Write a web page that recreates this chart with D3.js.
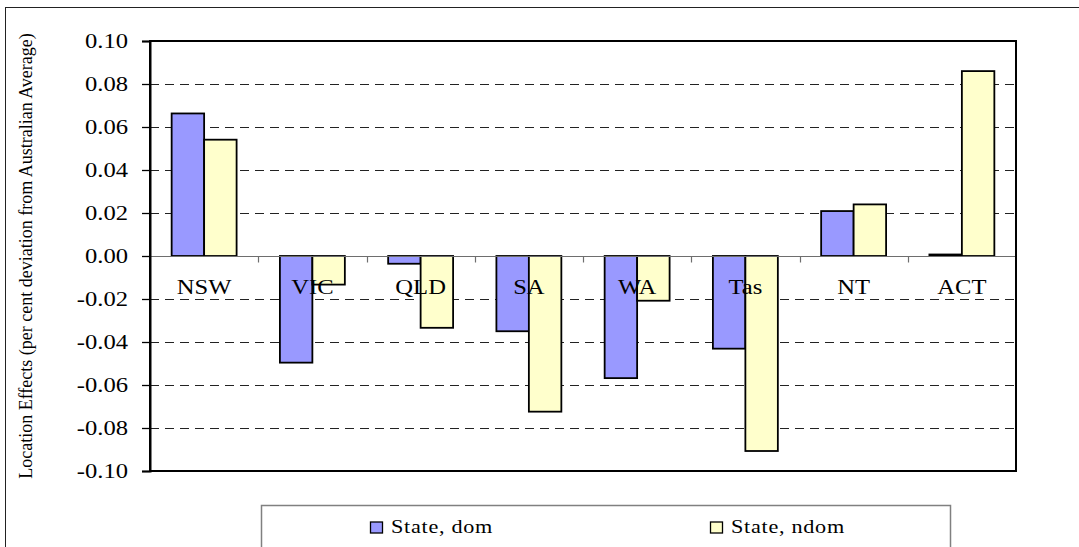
<!DOCTYPE html>
<html>
<head>
<meta charset="utf-8">
<script src="https://cdn.jsdelivr.net/npm/d3@7"></script>
<style>
  html, body { margin: 0; padding: 0; background: #fff; }
  svg text { font-family: 'Liberation Serif', 'Times New Roman', 'DejaVu Serif', serif; }
</style>
</head>
<body>
<svg id="chart" width="1079" height="547"></svg>
<script>
// Location effects by state, domestic vs non-domestic
const states = ["NSW", "VIC", "QLD", "SA", "WA", "Tas", "NT", "ACT"];
const seriesNames = ["State, dom", "State, ndom"];
const stateDom  = [0.0663, -0.0496, -0.0036, -0.0350, -0.0568, -0.0431, 0.0209, 0.0007];
const stateNdom = [0.0541, -0.0133, -0.0334, -0.0724, -0.0208, -0.0907, 0.0240, 0.0860];
const yTicks = [-0.10, -0.08, -0.06, -0.04, -0.02, 0.00, 0.02, 0.04, 0.06, 0.08, 0.10];
const yTickLabels = ["-0.10", "-0.08", "-0.06", "-0.04", "-0.02", "0.00", "0.02", "0.04", "0.06", "0.08", "0.10"];
const yTitle = "Location Effects (per cent deviation from Australian Average)";
const colors = ["#9999ff", "#ffffcc"];

const FONT = "'Liberation Serif', 'Times New Roman', 'DejaVu Serif', serif";
const svg = d3.select("#chart");
const plot = { left: 150, right: 1016, top: 41, bottom: 471 };
const stretch = 1.23; // horizontal widening of the serif labels
const crisp = v => Math.round(v) + 0.5;

// outer chart frame
svg.append("rect")
  .attr("x", 5.5).attr("y", 7.5)
  .attr("width", 1200).attr("height", 700)
  .attr("fill", "#fff").attr("stroke", "#222").attr("stroke-width", 1);

const x = d3.scaleBand().domain(states).range([plot.left, plot.right]).padding(0);
const bw = x.bandwidth();
const x1 = d3.scaleBand().domain(seriesNames).range([bw * 0.2, bw * 0.8]).padding(0);
const y = d3.scaleLinear().domain([-0.1, 0.1]).range([plot.bottom, plot.top]);

// dashed gridlines
svg.append("g")
  .selectAll("line")
  .data(yTicks.filter(v => v !== 0 && Math.abs(v) < 0.1))
  .join("line")
  .attr("x1", plot.left).attr("x2", plot.right)
  .attr("y1", d => crisp(y(d))).attr("y2", d => crisp(y(d)))
  .attr("stroke", "#222").attr("stroke-width", 1)
  .attr("stroke-dasharray", "9,6");

// bars
const rows = states.map((s, i) => ({ state: s, values: [stateDom[i], stateNdom[i]] }));
const groups = svg.append("g").selectAll("g")
  .data(rows).join("g")
  .attr("transform", d => `translate(${x(d.state)},0)`);
groups.selectAll("rect")
  .data(d => d.values.map((v, j) => ({ name: seriesNames[j], v, j })))
  .join("rect")
  .attr("x", d => x1(d.name))
  .attr("width", x1.bandwidth())
  .attr("y", d => y(Math.max(0, d.v)))
  .attr("height", d => Math.abs(y(d.v) - y(0)))
  .attr("fill", d => colors[d.j])
  .attr("stroke", "#000").attr("stroke-width", 1.8);

// zero line and category ticks
const y0 = crisp(y(0));
svg.append("line")
  .attr("x1", plot.left).attr("x2", plot.right)
  .attr("y1", y0).attr("y2", y0)
  .attr("stroke", "#6e6e6e").attr("stroke-width", 1.2);
svg.append("g").selectAll("line")
  .data(states.slice(1))
  .join("line")
  .attr("x1", d => crisp(x(d))).attr("x2", d => crisp(x(d)))
  .attr("y1", y0).attr("y2", y0 + 6)
  .attr("stroke", "#6e6e6e").attr("stroke-width", 1.2);

// category labels
svg.append("g").selectAll("text")
  .data(states)
  .join("text")
  .attr("transform", d => `translate(${x(d) + bw / 2},294) scale(${stretch},1)`)
  .attr("text-anchor", "middle")
  .attr("font-family", FONT)
  .attr("font-size", 20)
  .attr("fill", "#000")
  .text(d => d);

// plot frame
svg.append("rect")
  .attr("x", plot.left).attr("y", plot.top)
  .attr("width", plot.right - plot.left).attr("height", plot.bottom - plot.top)
  .attr("fill", "none").attr("stroke", "#000").attr("stroke-width", 2);

// y axis
const yAxis = d3.axisLeft(y)
  .tickValues(yTicks)
  .tickSize(8)
  .tickFormat((d, i) => yTickLabels[i]);
const ya = svg.append("g")
  .attr("transform", `translate(${plot.left},0)`)
  .call(yAxis)
  .attr("font-family", FONT);
ya.select(".domain").attr("stroke", "#000").attr("stroke-width", 2);
ya.selectAll(".tick line").attr("stroke", "#000").attr("stroke-width", 1.3);
ya.selectAll(".tick text")
  .attr("x", -22 / stretch)
  .attr("dy", "0.34em")
  .attr("transform", `scale(${stretch},1)`)
  .attr("font-family", FONT)
  .attr("font-size", 20)
  .attr("fill", "#000");

// y axis title
svg.append("text")
  .attr("transform", `translate(32,${(plot.top + plot.bottom) / 2}) rotate(-90)`)
  .attr("text-anchor", "middle")
  .attr("font-family", FONT)
  .attr("font-size", 18)
  .attr("fill", "#000")
  .text(yTitle);

// legend
const legend = svg.append("g");
legend.append("rect")
  .attr("x", 261.5).attr("y", 505.5)
  .attr("width", 689).attr("height", 80)
  .attr("fill", "#fff").attr("stroke", "#808080").attr("stroke-width", 1.5);
const legendX = [370, 710];
const items = legend.selectAll("g.item")
  .data(seriesNames)
  .join("g")
  .attr("class", "item")
  .attr("transform", (d, i) => `translate(${legendX[i]},0)`);
items.append("rect")
  .attr("x", 0.5).attr("y", 522)
  .attr("width", 12).attr("height", 11)
  .attr("fill", (d, i) => colors[i])
  .attr("stroke", "#000").attr("stroke-width", 1.3);
items.append("text")
  .attr("transform", `translate(21,533) scale(1.2,1)`)
  .attr("font-family", FONT)
  .attr("font-size", 18.5)
  .attr("letter-spacing", 0.6)
  .attr("fill", "#000")
  .text(d => d);
</script>
</body>
</html>
